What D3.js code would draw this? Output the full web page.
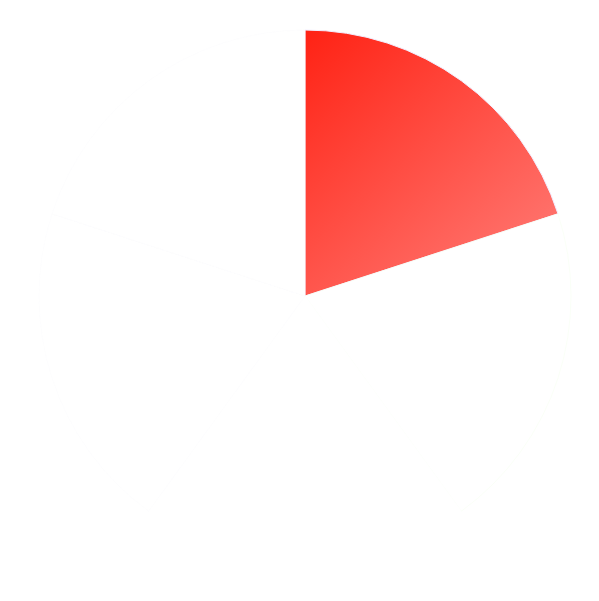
<!DOCTYPE html>
<html>
<head>
<meta charset="utf-8">
<script src="https://cdn.jsdelivr.net/npm/d3@7"></script>
<style>
  body { margin: 0; background: #fff; }
</style>
</head>
<body>
<div id="chart"></div>
<script>
var categories = ["A", "B", "C", "D", "E"];
var values = [20, 20, 20, 20, 20];
var startColors = ["#ff2214", "#ffffff", "#ffffff", "#ffffff", "#ffffff"];
var endColors = ["#ff7872", "#ffffff", "#ffffff", "#ffffff", "#ffffff"];
var strokeColors = ["#f2eeff", "#f6fff2", "#ffffff", "#fcfcfd", "#fbfbfd"];

var w = 599, h = 601;
var cx = 305, cy = 296, radius = 266;

var svg = d3.select("#chart").append("svg")
	.attr("width", w)
	.attr("height", h);

var defs = svg.append("defs");
categories.forEach(function (c, i) {
	var g = defs.append("linearGradient")
		.attr("id", "grad" + i)
		.attr("x1", "0").attr("y1", "0")
		.attr("x2", "0.8").attr("y2", "1");
	g.append("stop").attr("offset", "0%").attr("stop-color", startColors[i]);
	g.append("stop").attr("offset", "100%").attr("stop-color", endColors[i]);
});

var pie = d3.pie().sort(null).value(function (d) { return d; });
var arc = d3.arc().innerRadius(0).outerRadius(radius);

var data = pie(values);

var g = svg.append("g")
	.attr("transform", "translate(" + cx + "," + cy + ")");

g.selectAll("path")
	.data(data)
	.enter()
	.append("path")
	.attr("d", arc)
	.attr("fill", function (d, i) { return "url(#grad" + i + ")"; })
	.attr("stroke", function (d, i) { return strokeColors[i]; })
	.attr("stroke-width", function (d, i) { return i === 0 ? 1 : 0.6; });
</script>
</body>
</html>
